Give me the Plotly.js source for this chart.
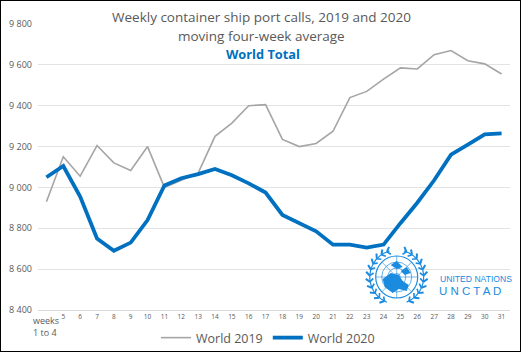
<!DOCTYPE html>
<html><head><meta charset="utf-8">
<script src="https://cdn.plot.ly/plotly-3.0.1.min.js"></script>
<style>html,body{margin:0;padding:0;background:#fff}#c{width:521px;height:352px}
#b{position:absolute;left:0;top:0;width:521px;height:352px;box-sizing:border-box;border:1px solid #000;pointer-events:none}</style>
</head><body><div id="c"></div><div id="b"></div>
<script>
const weeks = ["weeks 1 to 4","5","6","7","8","9","10","11","12","13","14","15","16","17","18","19","20","21","22","23","24","25","26","27","28","29","30","31"];
const world2019 = [8930,9150,9055,9205,9120,9083,9200,9000,9035,9070,9250,9315,9400,9405,9235,9200,9215,9275,9440,9470,9530,9585,9580,9650,9670,9620,9605,9555];
const world2020 = [9050,9105,8955,8750,8690,8730,8840,9010,9045,9065,9090,9060,9020,8975,8865,8825,8785,8720,8720,8705,8720,8825,8925,9035,9160,9210,9260,9265];
const yTicks = [8400,8600,8800,9000,9200,9400,9600,9800];
const yTickText = ["8 400","8 600","8 800","9 000","9 200","9 400","9 600","9 800"];

const xIdx = weeks.map((w,i)=>i);
const xText = weeks.map((w,i)=> i===0 ? '' : w);

const traces = [
 {x:xIdx,y:world2019,type:'scatter',mode:'lines',name:'World 2019',line:{color:'#A5A5A5',width:1.6}},
 {x:xIdx,y:world2020,type:'scatter',mode:'lines',name:'World 2020',line:{color:'#0070C0',width:3.8}}
];
const blue='#1B8BE0';
const px=(p)=>(p-37.6)/472.9, py=(p)=>(310-p)/286;
function base(){return {xref:'paper',yref:'paper',xsizemode:'pixel',ysizemode:'pixel',xanchor:cx,yanchor:cy};}
const cx=px(397), cy=py(277);
function circ(r,w){return Object.assign(base(),{type:'circle',x0:-r,x1:r,y0:-r,y1:r,line:{color:blue,width:w}});}
const shapes=[circ(21,1.2),circ(15,0.7),circ(9,0.7),circ(3.5,0.7)];
for(let k=0;k<8;k++){const a=k*Math.PI/4;shapes.push(Object.assign(base(),{type:'line',x0:0,y0:0,x1:21*Math.cos(a),y1:21*Math.sin(a),line:{color:blue,width:0.6}}));}
shapes.push(Object.assign(base(),{type:'path',path:'M -14,-2 L -6,4 L 2,2 L 6,-4 L 12,-8 L 10,-14 L 2,-12 L -4,-16 L -12,-10 Z',fillcolor:blue,line:{width:0}}));
shapes.push(Object.assign(base(),{type:'path',path:'M 4,6 L 10,10 L 14,4 L 8,2 Z',fillcolor:blue,line:{width:0}}));
shapes.push(Object.assign(base(),{type:'path',path:'M -6,12 L 0,16 L 6,10 L 0,8 Z',fillcolor:blue,line:{width:0}}));
for(const s of [-1,1]){
 let p='';
 for(let t=0;t<=12;t++){const a=-1.2+t*2.5/12;const x=s*27*Math.cos(a), y=27*Math.sin(a);p+=(t===0?'M ':'L ')+x.toFixed(1)+','+y.toFixed(1)+' ';}
 shapes.push(Object.assign(base(),{type:'path',path:p,line:{color:blue,width:1.2}}));
 for(let t=0;t<=10;t++){const a=-1.1+t*2.3/10;const x=s*27*Math.cos(a), y=27*Math.sin(a);
  const lx=s*31*Math.cos(a+0.12), ly=31*Math.sin(a+0.12);
  const ix=s*23.5*Math.cos(a+0.12), iy=23.5*Math.sin(a+0.12);
  shapes.push(Object.assign(base(),{type:'line',x0:x,y0:y,x1:lx,y1:ly,line:{color:blue,width:2}}));
  shapes.push(Object.assign(base(),{type:'line',x0:x,y0:y,x1:ix,y1:iy,line:{color:blue,width:1.6}}));
 }
}
const layout={
 width:521,height:352,margin:{l:38,r:10.5,t:24,b:42,autoexpand:false},
 paper_bgcolor:'#fff',plot_bgcolor:'#fff',
 font:{family:'"Open Sans", "Liberation Sans", sans-serif',color:'#595959'},
 showlegend:true,
 legend:{orientation:'h',x:px(268),xanchor:'center',y:py(338),yanchor:'middle',font:{size:12.5,color:'#595959'},itemwidth:30,tracegroupgap:0},
 xaxis:{type:'linear',range:[-0.5,27.5],tickmode:'array',tickvals:xIdx,ticktext:xText,tickangle:0,tickfont:{size:6.5,color:'#595959'},showgrid:false,zeroline:false,showline:true,linecolor:'#D9D9D9',linewidth:1,ticks:'',automargin:false,fixedrange:true},
 yaxis:{range:[8400,9800],tickmode:'array',tickvals:yTicks,ticktext:yTickText,tickfont:{size:9,color:'#595959'},ticklabelstandoff:5,showgrid:true,gridcolor:'#E3E3E3',gridwidth:1,zeroline:false,ticks:'',automargin:false,fixedrange:true},
 shapes:shapes,
 annotations:[
  {xref:'paper',yref:'paper',x:px(262),y:py(17),xanchor:'center',yanchor:'middle',text:'Weekly container ship port calls, 2019 and 2020',showarrow:false,font:{size:13.5,color:'#595959'},bgcolor:'#fff',borderpad:2},
  {xref:'paper',yref:'paper',x:px(262),y:py(36),xanchor:'center',yanchor:'middle',text:'moving four-week average',showarrow:false,font:{size:13.5,color:'#595959'}},
  {xref:'paper',yref:'paper',x:px(263),y:py(54),xanchor:'center',yanchor:'middle',text:'<b>World Total</b>',showarrow:false,font:{size:12.8,color:'#0070C0'}},
  {xref:'paper',yref:'paper',x:px(31),y:py(312),xanchor:'left',yanchor:'top',align:'left',text:'weeks<br>1 to 4',showarrow:false,font:{size:9,color:'#595959'}},
  {xref:'paper',yref:'paper',x:px(438),y:py(279),xanchor:'left',yanchor:'middle',text:'UNITED NATIONS',showarrow:false,font:{size:8.6,color:blue,family:'"Liberation Sans", Arial, sans-serif'}},
  {xref:'paper',yref:'paper',x:px(437),y:py(291),xanchor:'left',yanchor:'middle',text:'U N C T A D',showarrow:false,font:{size:11.5,color:blue,family:'"Liberation Sans", Arial, sans-serif'}}
 ]
};
Plotly.newPlot('c',traces,layout,{displayModeBar:false,staticPlot:true});
</script></body></html>
